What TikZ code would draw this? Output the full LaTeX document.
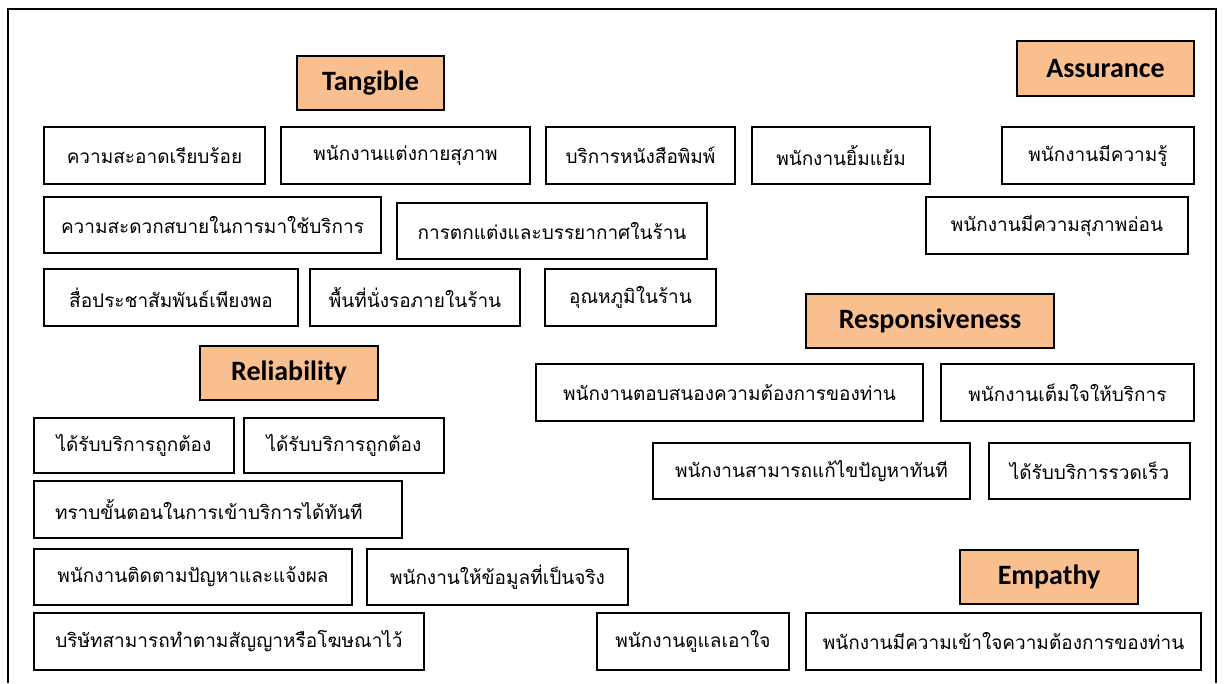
\documentclass[tikz,border=0pt]{standalone}
\usepackage{fontspec}
\newfontfamily\thaifont[Script=Thai]{Loma}
\newfontfamily\headfont{Carlito}
\definecolor{hdrfill}{HTML}{FABF8F}
\tikzset{
  itembox/.style={draw=black, line width=1.5pt, fill=white, inner sep=0pt,
    font=\thaifont\fontsize{19}{22}\selectfont},
  headbox/.style={draw=black, line width=1.5pt, fill=hdrfill, inner sep=0pt,
    font=\headfont\bfseries\fontsize{28}{31}\selectfont},
  frameline/.style={draw=black, line width=1.5pt}
}
% \qbox{style}{name}{x1}{y1}{x2}{y2}{text}
\newcommand\qbox[7]{%
  \node[#1, minimum width={#5-#3}, minimum height={#6-#4}]
    (#2) at ({(#3+#5)/2},{(#4+#6)/2}) {#7};}
\begin{document}
\begin{tikzpicture}[x=1pt,y=-1pt]
\useasboundingbox (0,0) rectangle (1225,683);
\draw[frameline] (8,683) -- (8,9) -- (1216,9) -- (1216,683);

% category headers
\qbox{headbox}{tangible}{297}{56}{444}{110}{Tangible}
\qbox{headbox}{assurance}{1017}{41}{1194}{96}{Assurance}
\qbox{headbox}{responsive}{806}{294}{1054}{348}{Responsiveness}
\qbox{headbox}{reliability}{200}{346}{378}{400}{Reliability}
\qbox{headbox}{empathy}{960}{550}{1138}{604}{Empathy}

% Tangible
\qbox{itembox}{t1}{44}{127}{265}{184}{ความสะอาดเรียบร้อย}
\qbox{itembox}{t2}{281}{127}{530}{184}{พนักงานแต่งกายสุภาพ}
\qbox{itembox}{t3}{546}{127}{735}{184}{บริการหนังสือพิมพ์}
\qbox{itembox}{t4}{44}{197}{381}{253}{ความสะดวกสบายในการมาใช้บริการ}
\qbox{itembox}{t5}{397}{203}{707}{259}{การตกแต่งและบรรยากาศในร้าน}
\qbox{itembox}{t6}{44}{269}{298}{326}{สื่อประชาสัมพันธ์เพียงพอ}
\qbox{itembox}{t7}{310}{269}{520}{326}{พื้นที่นั่งรอภายในร้าน}
\qbox{itembox}{t8}{545}{269}{716}{326}{อุณหภูมิในร้าน}

% Assurance
\qbox{itembox}{a1}{752}{127}{930}{184}{พนักงานยิ้มแย้ม}
\qbox{itembox}{a2}{1002}{127}{1194}{184}{พนักงานมีความรู้}
\qbox{itembox}{a3}{926}{197}{1188}{254}{พนักงานมีความสุภาพอ่อน}

% Responsiveness
\qbox{itembox}{s1}{536}{364}{923}{421}{พนักงานตอบสนองความต้องการของท่าน}
\qbox{itembox}{s2}{941}{364}{1194}{421}{พนักงานเต็มใจให้บริการ}
\qbox{itembox}{s3}{653}{443}{970}{499}{พนักงานสามารถแก้ไขปัญหาทันที}
\qbox{itembox}{s4}{989}{443}{1190}{499}{ได้รับบริการรวดเร็ว}

% Reliability
\qbox{itembox}{r1}{34}{418}{234}{473}{ได้รับบริการถูกต้อง}
\qbox{itembox}{r2}{244}{418}{444}{473}{ได้รับบริการถูกต้อง}
\qbox{itembox, text width=326pt, align=left}{r3}{34}{481}{402}{538}{ทราบขั้นตอนในการเข้าบริการได้ทันที}
\qbox{itembox}{r4}{34}{549}{352}{605}{พนักงานติดตามปัญหาและแจ้งผล}
\qbox{itembox}{r5}{367}{549}{628}{605}{พนักงานให้ข้อมูลที่เป็นจริง}
\qbox{itembox}{r6}{34}{613}{424}{670}{บริษัทสามารถทำตามสัญญาหรือโฆษณาไว้}

% Empathy
\qbox{itembox}{e1}{597}{613}{789}{670}{พนักงานดูแลเอาใจ}
\qbox{itembox}{e2}{806}{613}{1201}{670}{พนักงานมีความเข้าใจความต้องการของท่าน}
\end{tikzpicture}
\end{document}
